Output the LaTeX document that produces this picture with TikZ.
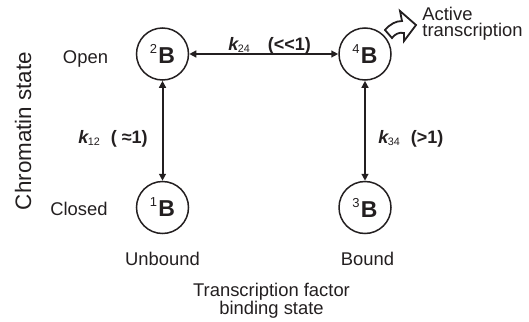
\documentclass[tikz,border=0pt]{standalone}
\usepackage{fontspec}
\setmainfont{Liberation Sans}
\usetikzlibrary{arrows.meta}
\definecolor{ink}{HTML}{231F20}
\newcommand\mkB[1]{\raisebox{5pt}{\fontsize{6.5}{6.5}\selectfont #1}\kern0.6pt{\fontsize{11.5}{11.5}\selectfont\bfseries B}}
\newcommand\klab[3]{{\bfseries\itshape k}\kern-0.3pt\raisebox{-1.2pt}{\fontsize{5.4}{5.4}\selectfont #1}\hspace{#3}{\bfseries #2}}
\begin{document}
\begin{tikzpicture}[x=0.5pt,y=-0.5pt,
  every node/.style={text=ink},
  txt/.style={font=\fontsize{9.2}{9.2}\selectfont, inner sep=0pt},
  ktxt/.style={font=\fontsize{9}{9}\selectfont, inner sep=0pt},
  bigtxt/.style={font=\fontsize{11.2}{11.2}\selectfont, inner sep=0pt},
  state/.style={circle, draw=ink, line width=0.75pt, minimum size=26pt, inner sep=0pt},
  link/.style={draw=ink, line width=1pt, {Triangle[length=3.5pt,width=3.4pt]}-{Triangle[length=3.5pt,width=3.4pt]}},
  blockarrow/.style={draw=ink, line width=0.9pt, fill=white, line join=miter}]
\useasboundingbox (0,0) rectangle (529,321);
% states
\node[state] (b2) at (162.5,54) {\mkB{2}};
\node[state] (b4) at (365,54) {\mkB{4}};
\node[state] (b1) at (162.5,207.5) {\mkB{1}};
\node[state] (b3) at (365,207.5) {\mkB{3}};
% connectors
\draw[link] (b2) -- (b4);
\draw[link] (b2) -- (b1);
\draw[link] (b4) -- (b3);
% rate labels
\node[ktxt, anchor=base west] (k24) at (228,50) {\klab{24}{(<{}<1)}{9pt}};
\node[ktxt, anchor=base west] (k12) at (78,143) {\klab{12}{( ≈1)}{5.5pt}};
\node[ktxt, anchor=base west] (k34) at (378,143) {\klab{34}{(>1)}{5.5pt}};
% side labels
\node[txt, anchor=base] (open) at (85.5,63) {Open};
\node[txt, anchor=base] (closed) at (79,215) {Closed};
\node[txt, anchor=base] (unbound) at (162.5,265) {Unbound};
\node[txt, anchor=base] (bound) at (367.5,265) {Bound};
\node[txt, align=center, font=\fontsize{9.2}{9}\selectfont, anchor=north] (tf) at (271.5,283) {Transcription factor\\binding state};
\node[bigtxt, rotate=90] (chrom) at (23,131) {Chromatin state};
\node[txt, align=left, font=\fontsize{9.2}{8}\selectfont, anchor=north west] (act) at (422,7) {Active\\transcription};
% curved block arrow
\draw[blockarrow] (385,30) .. controls (390,24) and (396,21) .. (402,21) -- (400,11) -- (416,25) -- (404,41) -- (404,33) .. controls (399,32) and (395,34) .. (392,38) -- cycle;
\end{tikzpicture}
\end{document}
